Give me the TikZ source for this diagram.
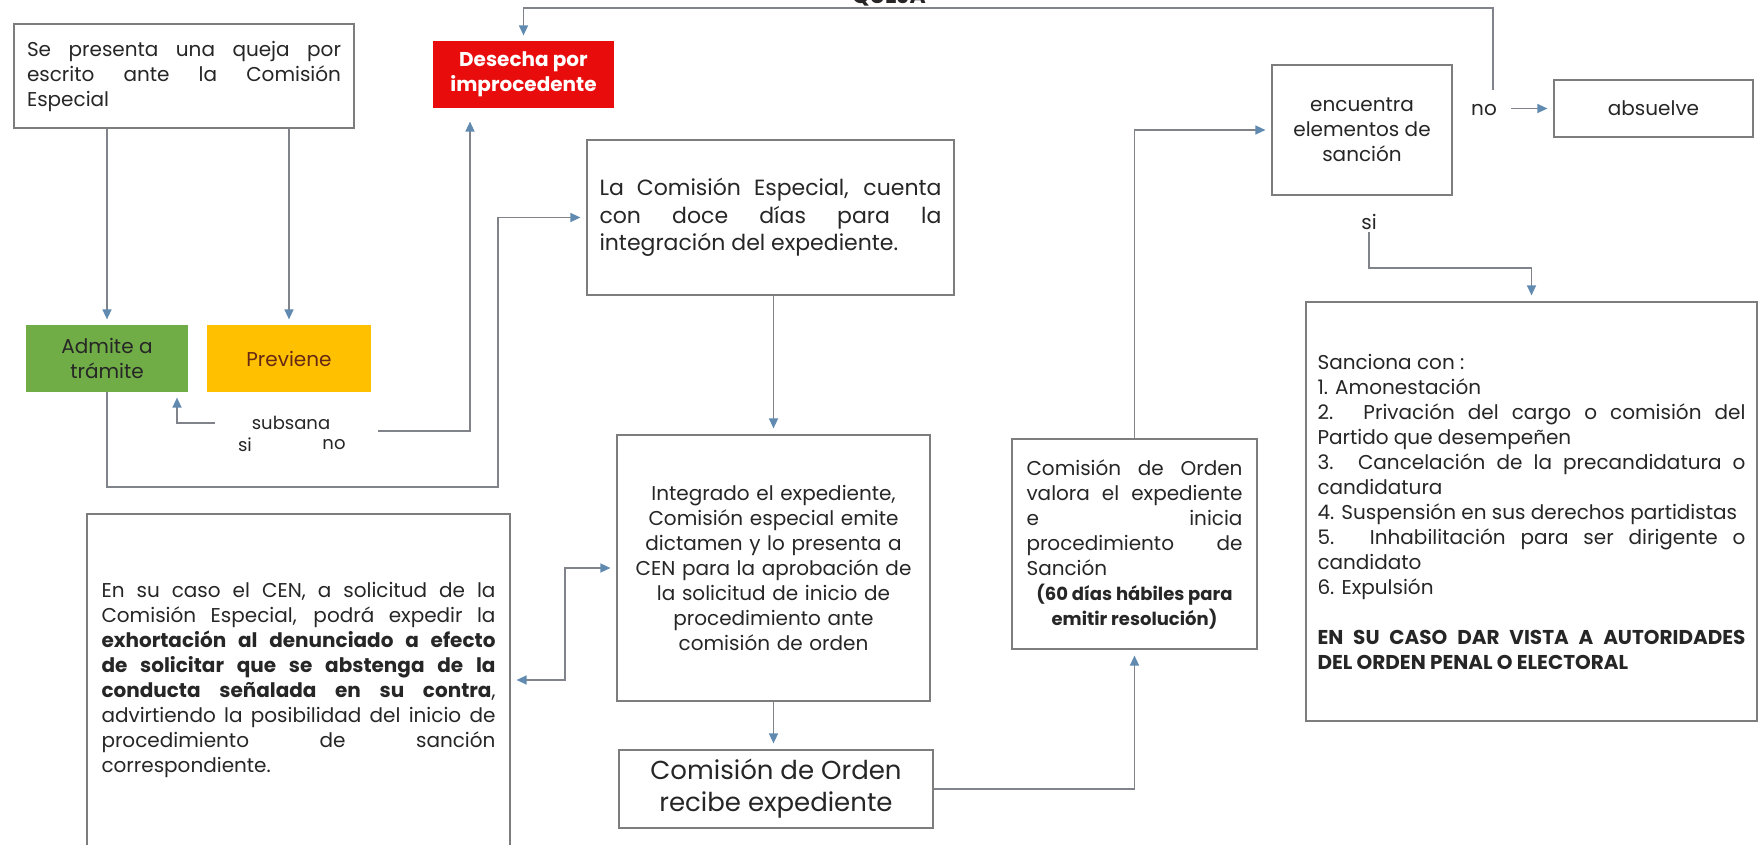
\documentclass[tikz,border=0pt]{standalone}
\usepackage{fontspec}
\setmainfont{Poppins}
\usetikzlibrary{arrows.meta,calc}
\setlength{\parindent}{0pt}
\definecolor{linea}{RGB}{128,132,138}
\definecolor{tipc}{RGB}{96,138,176}
\definecolor{frm}{RGB}{125,125,125}
\definecolor{ink}{RGB}{38,38,38}
\definecolor{rojo}{RGB}{232,12,12}
\definecolor{verde}{RGB}{112,173,71}
\definecolor{oro}{RGB}{255,192,0}
\definecolor{cafe}{RGB}{100,40,20}

\begin{document}
\begin{tikzpicture}[x=0.5pt,y=-0.5pt,
    >={Triangle[length=5pt,width=4.5pt,color=tipc]},
    txt/.style={font=\fontsize{10}{12.5}\selectfont,text=ink},
    bx/.style={txt,draw=frm,line width=0.6pt,inner ysep=0pt},
    jbox/.style={bx,align=justify},
    cbox/.style={bx,align=center},
    con/.style={draw=linea,line width=0.7pt,shorten >=3pt},
    lbl/.style={txt,inner sep=1pt}]
    \fill[white] (0,0) rectangle (1762,845);
    \useasboundingbox (0,0) rectangle (1762,845);

    \node[jbox,text width=157pt,inner xsep=6.5pt,minimum height=52pt] (queja) at (184,76)
      {Se presenta una queja por\linebreak escrito ante la Comisión\linebreak Especial};
    \node[cbox,fill=rojo,draw=rojo,text=white,font=\fontsize{10}{12.5}\selectfont\bfseries,
          minimum width=89.5pt,minimum height=32.5pt] (desecha) at (523.5,74.5) {Desecha por\\improcedente};
    \node[cbox,fill=verde,draw=verde,minimum width=80pt,minimum height=32.5pt] (admite) at (107,358.5) {Admite a\\trámite};
    \node[cbox,fill=oro,draw=oro,text=cafe,minimum width=81pt,minimum height=32.5pt] (previene) at (289,358.5) {Previene};
    \node[jbox,text width=171pt,inner xsep=6.25pt,minimum height=77.5pt,font=\fontsize{11}{13.75}\selectfont] (comesp) at (770.5,217.5)
      {La Comisión Especial, cuenta\linebreak con doce días para la\linebreak integración del expediente.};
    \node[cbox,text width=148pt,inner xsep=4.25pt,minimum height=133pt] (integ) at (773.5,568)
      {Integrado el expediente,\\Comisión especial emite\\dictamen y lo presenta a\\CEN para la aprobación de\\la solicitud de inicio de\\procedimiento ante\\comisión de orden};
    \node[cbox,minimum width=157pt,minimum height=39pt,font=\fontsize{13}{16}\selectfont] (recibe) at (776,789)
      {Comisión de Orden\\recibe expediente};
    \node[jbox,text width=108pt,inner xsep=7.25pt,minimum height=105pt] (valora) at (1134.5,544)
      {Comisión de Orden\linebreak valora el expediente\linebreak e inicia\linebreak procedimiento de\linebreak Sanción\par
       {\centering\bfseries\fontsize{9}{12.5}\selectfont (60~días~hábiles~para\\emitir~resolución)\par}};
    \node[cbox,minimum width=90pt,minimum height=65pt] (encuentra) at (1362,130) {encuentra\\elementos de\\sanción};
    \node[cbox,minimum width=99.5pt,minimum height=28.5pt] (absuelve) at (1653.5,108.5) {absuelve};
    \node[jbox,text width=214pt,inner xsep=5.75pt,minimum height=209.5pt] (sanciona) at (1531.5,511.5)
      {Sanciona con :\par
       1. Amonestación\par
       2. Privación del cargo o comisión del\linebreak Partido que desempeñen\par
       3. Cancelación de la precandidatura o\linebreak candidatura\par
       4. Suspensión en sus derechos partidistas\par
       5. Inhabilitación para ser dirigente o\linebreak candidato\par
       6. Expulsión\par\vspace{12.5pt}
       \textbf{EN SU CASO DAR VISTA A AUTORIDADES\linebreak DEL ORDEN PENAL O ELECTORAL}};
    \node[jbox,text width=197pt,inner xsep=7.25pt,minimum height=166pt] (exhort) at (298.5,680)
      {En su caso el CEN, a solicitud de la\linebreak Comisión Especial, podrá expedir la\linebreak
       \textbf{exhortación al denunciado a efecto\linebreak de solicitar que se abstenga de la\linebreak
       conducta señalada en su contra},\linebreak advirtiendo la posibilidad del inicio de\linebreak
       procedimiento de sanción\linebreak correspondiente.};

    \node[font=\fontsize{11}{13}\selectfont\bfseries,text=ink,anchor=south,inner sep=0pt] (titulo) at (889,7) {QUEJA};
    \node[lbl,font=\fontsize{9}{11}\selectfont] (subsana) at (291,423) {subsana};
    \node[lbl,font=\fontsize{9}{11}\selectfont] (si1) at (245,445) {si};
    \node[lbl,font=\fontsize{9}{11}\selectfont] (no1) at (334,445) {no};
    \node[lbl] (no2) at (1484,110) {no};
    \node[lbl] (si2) at (1369,222) {si};

    \coordinate (sbE) at (215,423);
    \coordinate (noL) at (378,431);
    \coordinate (c1) at (498,487);
    \coordinate (c2) at (565,568);
    \coordinate (noE) at (1511,108.5);
    \coordinate (noT) at (1493,90);

    \foreach \b in {admite,previene} \draw[con,->] (queja.south -| \b.north) -- (\b.north);
    \draw[con,->] (noT) -- ++(0,-82) -| (desecha.north);
    \draw[con,->,shorten >=7pt] (noL) -| ([xshift=-26.75pt]desecha.south);
    \draw[con,->] (sbE) -| ([xshift=35pt]admite.south);
    \draw[con,->] (admite.south) |- (c1) |- (comesp.west);
    \draw[con,->] (integ.north |- comesp.south) -- (integ.north);
    \draw[con,->] (integ.south) -- (integ.south |- recibe.north);
    \draw[con,<->,shorten <=3pt] (exhort.east) -| (c2) -- (integ.west);
    \draw[con,->] (recibe.east) -| (valora.south);
    \draw[con,->] (valora.north) |- (encuentra.west);
    \draw[con,->] (noE) -- (absuelve);
    \draw[con,->] (si2.south) -- ++(0,36) -| (sanciona.north);
  \end{tikzpicture}
\end{document}
